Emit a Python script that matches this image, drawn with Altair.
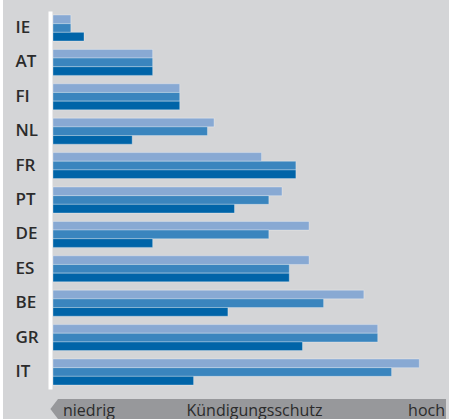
import altair as alt
import pandas as pd

countries = ["IE", "AT", "FI", "NL", "FR", "PT", "DE", "ES", "BE", "GR", "IT"]
series = ["Reihe 1", "Reihe 2", "Reihe 3"]
s1 = [0.27, 1.51, 1.92, 2.44, 3.16, 3.47, 3.88, 3.88, 4.71, 4.92, 5.55]
s2 = [0.27, 1.51, 1.92, 2.34, 3.68, 3.27, 3.27, 3.58, 4.10, 4.92, 5.13]
s3 = [0.47, 1.51, 1.92, 1.20, 3.68, 2.75, 1.51, 3.58, 2.65, 3.78, 2.13]
colors = ["#88a9d3", "#3a85be", "#0064a8"]
scale_labels = ["niedrig", "Kündigungsschutz", "hoch"]

rows = []
for i, c in enumerate(countries):
    for name, vals in zip(series, [s1, s2, s3]):
        rows.append({"Land": c, "Reihe": name, "Wert": vals[i]})
df = pd.DataFrame(rows)

FONT = "Open Sans"
TXT = "#2b2b2b"

bars = alt.Chart(df).mark_bar(stroke="#ffffff", strokeOpacity=0.3, strokeWidth=1).encode(
    x=alt.X("Wert:Q", scale=alt.Scale(domain=[0, 6], nice=False, zero=True), axis=None),
    y=alt.Y(
        "Land:N",
        sort=countries,
        scale=alt.Scale(paddingInner=0.244, paddingOuter=0.116),
        axis=alt.Axis(
            title=None,
            labelFont=FONT,
            labelFontSize=17,
            labelFontWeight=600,
            labelColor=TXT,
            labelAlign="left",
            labelPadding=35,
            ticks=False,
            tickSize=0,
            domainColor="#ffffff",
            domainWidth=4,
            offset=3,
            grid=False,
        ),
    ),
    yOffset=alt.YOffset("Reihe:N", sort=series, scale=alt.Scale(paddingInner=0, paddingOuter=0)),
    color=alt.Color("Reihe:N", scale=alt.Scale(domain=series, range=colors), legend=None),
)

one = alt.Data(values=[{}])

strip = alt.Chart(one).mark_rect(color="#ffffff").encode(
    x=alt.value(-53), x2=alt.value(-50), y=alt.value(-11), y2=alt.value(408)
)

band = alt.Chart(one).mark_point(
    shape="M-0.76,0L0,-1L38.8,-1L38.8,1L0,1Z",
    filled=True,
    fill="#97989b",
    opacity=1,
    strokeWidth=0,
    size=400,
).encode(x=alt.value(5), y=alt.value(398))

t1 = alt.Chart(one).mark_text(font=FONT, fontSize=16, color=TXT, align="left", baseline="alphabetic").encode(
    x=alt.value(10), y=alt.value(405), text=alt.value(scale_labels[0])
)
t2 = alt.Chart(one).mark_text(font=FONT, fontSize=16, color=TXT, align="center", baseline="alphabetic").encode(
    x=alt.value(201.5), y=alt.value(405), text=alt.value(scale_labels[1])
)
t3 = alt.Chart(one).mark_text(font=FONT, fontSize=16, color=TXT, align="right", baseline="alphabetic").encode(
    x=alt.value(392), y=alt.value(405), text=alt.value(scale_labels[2])
)

chart = alt.layer(strip, bars, band, t1, t2, t3).properties(
    width=396,
    height=378,
    padding={"left": 53, "top": 11, "right": 0, "bottom": 30},
    autosize=alt.AutoSizeParams(type="none"),
    background="#d4d5d7",
).configure_view(stroke=None)

chart.save("out.html", embed_options={"renderer": "svg", "actions": False})
